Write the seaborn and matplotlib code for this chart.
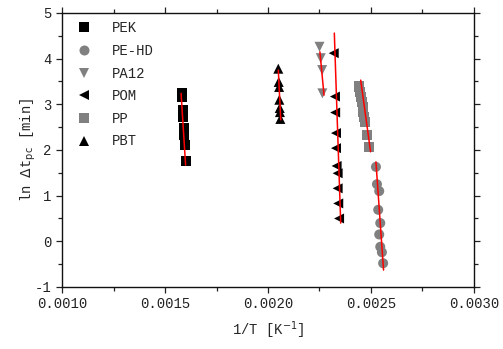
import numpy as np
import pandas as pd
import seaborn as sns
import matplotlib
matplotlib.use("Agg")
import matplotlib.pyplot as plt
from matplotlib.ticker import MultipleLocator

############## Data #############################################
materials = ["PEK", "PE-HD", "PA12", "POM", "PP", "PBT"]

pek_x = [0.001582, 0.001584, 0.001587, 0.001589, 0.001592, 0.001594, 0.001597, 0.001603]
pek_y = [3.25, 3.16, 2.88, 2.72, 2.48, 2.33, 2.11, 1.75]

pehd_x = [0.002524, 0.002529, 0.002540, 0.002535, 0.002545, 0.002540, 0.002545, 0.002553, 0.002559]
pehd_y = [1.63, 1.25, 1.10, 0.69, 0.40, 0.15, -0.12, -0.24, -0.48]

pa12_x = [0.002250, 0.002256, 0.002263, 0.002264]
pa12_y = [4.26, 4.01, 3.75, 3.24]

pom_x = [0.002319, 0.002325, 0.002326, 0.002330, 0.002330, 0.002333, 0.002338, 0.002338, 0.002341, 0.002345]
pom_y = [4.12, 3.17, 2.82, 2.37, 2.04, 1.65, 1.49, 1.16, 0.83, 0.50]

pp_x = [0.002444, 0.002448, 0.002452, 0.002456, 0.002460, 0.002463, 0.002467, 0.002471, 0.002482, 0.002490]
pp_y = [3.39, 3.28, 3.17, 3.06, 2.95, 2.84, 2.73, 2.62, 2.33, 2.07]

pbt_x = [0.002050, 0.002052, 0.002054, 0.002055, 0.002057, 0.002058, 0.002060]
pbt_y = [3.78, 3.49, 3.38, 3.10, 2.92, 2.83, 2.68]

# linear fits (end points of the red lines), same order as materials
fit_x0 = [0.001578, 0.002524, 0.002252, 0.002322, 0.002450, 0.002050]
fit_x1 = [0.001600, 0.002561, 0.002272, 0.002353, 0.002498, 0.002062]
fit_y0 = [3.24, 1.74, 4.15, 4.56, 3.53, 3.75]
fit_y1 = [1.67, -0.63, 3.20, 0.40, 1.96, 2.66]

##################### Build long table ##########################
xs = [pek_x, pehd_x, pa12_x, pom_x, pp_x, pbt_x]
ys = [pek_y, pehd_y, pa12_y, pom_y, pp_y, pbt_y]
df = pd.concat([pd.DataFrame({"x": x, "y": y, "material": m})
                for m, x, y in zip(materials, xs, ys)], ignore_index=True)

palette = {"PEK": "black", "PE-HD": "#808080", "PA12": "#808080",
           "POM": "black", "PP": "#808080", "PBT": "black"}
markers = {"PEK": "s", "PE-HD": "o", "PA12": "v",
           "POM": "<", "PP": "s", "PBT": "^"}

##################### Plot ######################################
sns.set_style("ticks")
plt.rcParams["font.family"] = ["Liberation Mono", "DejaVu Sans"]
plt.rcParams["axes.unicode_minus"] = False
plt.rcParams["mathtext.fontset"] = "dejavusans"

fig = plt.figure(figsize=(5.03, 3.49), dpi=100)
ax = fig.add_axes([0.1233, 0.1777, 0.8190, 0.7851])

sns.scatterplot(data=df, x="x", y="y", hue="material", style="material",
                hue_order=materials, style_order=materials,
                palette=palette, markers=markers, s=52, linewidth=0,
                ax=ax, zorder=2)

for x0, x1, y0, y1 in zip(fit_x0, fit_x1, fit_y0, fit_y1):
    ax.plot([x0, x1], [y0, y1], color="red", lw=1.1, zorder=3)

ax.set_xlim(0.001, 0.003)
ax.set_ylim(-1, 5)
ax.xaxis.set_major_locator(MultipleLocator(0.0005))
ax.xaxis.set_minor_locator(MultipleLocator(0.00025))
ax.yaxis.set_major_locator(MultipleLocator(1))
ax.yaxis.set_minor_locator(MultipleLocator(0.5))
ax.xaxis.set_major_formatter(matplotlib.ticker.FormatStrFormatter("%.4f"))
ax.tick_params(which="both", top=True, right=True, direction="out",
               labelsize=10, colors="#222222", width=0.9)
ax.tick_params(which="major", length=4)
ax.tick_params(which="minor", length=3)
for sp in ax.spines.values():
    sp.set_linewidth(1.0)
    sp.set_color("#111111")

ax.set_xlabel(r"1/T [K$^{-1}$]", fontsize=10, labelpad=6)
ax.set_ylabel(r"ln $\Delta$t$_{\rm pc}$ [min]", fontsize=10, labelpad=-2)

leg = ax.legend(loc="upper left", frameon=False, fontsize=10,
                handletextpad=1.0, labelspacing=0.62,
                borderaxespad=0.2, markerscale=1.0)

fig.savefig("out.png", dpi=100)
